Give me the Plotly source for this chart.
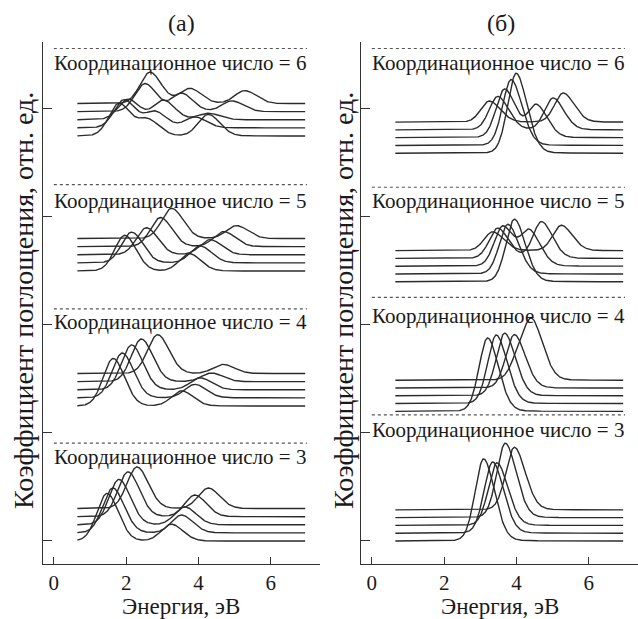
import numpy as np
import plotly.graph_objects as go

# Energy grid (eV) on which every spectrum is evaluated
E_MIN, E_MAX = 0.65, 6.95
energy = np.linspace(E_MIN, E_MAX, 600)

coord_numbers = [3, 4, 5, 6]
x_ticks = [0, 2, 4, 6]

# Absorption bands of every curve: (band energy, eV; band intensity, arb. units).
# One list per curve, bottom curve of a group first.
bands_a = {
    3: [[(1.47, 4.40), (3.25, 1.55)],
        [(1.63, 4.15), (3.53, 1.65)],
        [(1.80, 4.20), (3.62, 1.65)],
        [(2.05, 4.15), (3.90, 2.00)],
        [(2.30, 3.85), (4.27, 1.90)]],
    4: [[(1.64, 4.40), (3.53, 1.40)],
        [(1.89, 4.15), (3.90, 1.25)],
        [(2.15, 4.15), (4.05, 1.10)],
        [(2.42, 3.95), (4.36, 0.80)],
        [(2.87, 3.60), (4.68, 0.85)]],
    5: [[(1.96, 3.30), (3.75, 1.60)],
        [(2.15, 2.85), (4.05, 1.55)],
        [(2.56, 2.50), (4.32, 1.40)],
        [(2.95, 2.70), (4.70, 1.40)],
        [(3.26, 2.80), (5.05, 1.20)]],
    6: [[(1.80, 3.00), (2.60, 1.50), (4.27, 2.00)],
        [(1.94, 2.60), (2.80, 1.50), (3.90, 1.00)],
        [(2.05, 1.90), (3.03, 1.80), (4.27, 0.60)],
        [(2.52, 2.60), (3.53, 1.70), (4.92, 1.00)],
        [(2.66, 2.90), (3.76, 1.40), (5.28, 1.20)]],
}

bands_b = {
    3: [[(3.09, 7.60)],
        [(3.34, 6.60)],
        [(3.46, 5.80)],
        [(3.69, 6.90)],
        [(3.94, 5.80)]],
    4: [[(3.20, 6.80)],
        [(3.44, 6.35)],
        [(3.67, 5.80)],
        [(3.94, 4.95)],
        [(4.12, 2.60), (4.47, 4.30)]],
    5: [[(3.94, 5.80)],
        [(3.76, 4.60)],
        [(3.62, 3.70), (4.36, 3.20)],
        [(3.48, 2.80), (4.69, 3.40)],
        [(3.34, 1.75), (5.24, 2.35)]],
    6: [[(3.99, 7.40)],
        [(3.85, 6.10)],
        [(3.67, 4.50), (4.55, 3.00)],
        [(3.48, 3.10), (5.01, 2.95)],
        [(3.25, 1.95), (5.29, 2.70)]],
}

# Vertical stacking of the spectra
group_base_a = [0.0, 12.5, 25.0, 37.5]
group_base_b = [0.0, 12.0, 24.0, 35.9]
curve_step_a = 0.75
curve_step_b = 0.72

# Band shape: gaussian half-widths below/above the centre and lorentzian share
shape_a = dict(sig_lo=0.28, sig_hi=0.32, eta=0.05)
shape_b = dict(sig_lo=0.24, sig_hi=0.31, eta=0.10)

# Separator lines and group captions (y, data units)
sep_y_a = [9.07, 21.5, 33.0, 45.6]
sep_y_b = [11.67, 22.56, 32.75, 45.6]
cap_y_a = [7.78, 20.28, 31.5, 44.26]
cap_y_b = [10.28, 20.86, 31.5, 44.26]
SEP_X = [0.0, 7.0]

X_RANGE = [-0.3, 7.36]
Y_RANGE = [-2.13, 46.2]
Y_TICKS = [0, 10, 20, 30, 40]

FONT = "Liberation Serif, Times New Roman, serif"
INK = "#2b2b2b"


def spectrum(bands, sig_lo, sig_hi, eta):
    y = np.zeros_like(energy)
    for centre, height in bands:
        sig = np.where(energy < centre, sig_lo, sig_hi)
        u = (energy - centre) / sig
        gauss = np.exp(-0.5 * u ** 2)
        lorentz = 1.0 / (1.0 + (u * 1.1774) ** 2)
        y += height * ((1 - eta) * gauss + eta * lorentz)
    return y


fig = go.Figure()

panels = [
    ("x", "y", bands_a, group_base_a, curve_step_a, shape_a, sep_y_a, cap_y_a),
    ("x2", "y2", bands_b, group_base_b, curve_step_b, shape_b, sep_y_b, cap_y_b),
]

for xa, ya, bands, bases, step, shape, sep_y, cap_y in panels:
    for g, cn in enumerate(coord_numbers):
        for i, curve in enumerate(bands[cn]):
            base = bases[g] + i * step
            fig.add_trace(go.Scatter(
                x=energy, y=base + spectrum(curve, **shape),
                mode="lines", line=dict(color=INK, width=1.4),
                xaxis=xa, yaxis=ya, showlegend=False, hoverinfo="skip"))
        fig.add_trace(go.Scatter(
            x=SEP_X, y=[sep_y[g], sep_y[g]], mode="lines",
            line=dict(color="#555555", width=1.2, dash="dot"),
            xaxis=xa, yaxis=ya, showlegend=False, hoverinfo="skip"))
        fig.add_annotation(
            x=-0.04, y=cap_y[g], xref=xa, yref=ya,
            text=f"Координационное число = {cn}",
            showarrow=False, xanchor="left", yanchor="middle",
            font=dict(family=FONT, size=21, color="#1a1a1a"))

axis_common = dict(
    showline=True, linecolor="#333333", linewidth=1.3,
    ticks="inside", tickcolor="#333333", tickwidth=1.3,
    showgrid=False, zeroline=False, mirror=False)

X_DOM_A = [43 / 638, 320 / 638]
X_DOM_B = [361 / 638, 1.0]
Y_DOM = [(619 - 564) / 619, (619 - 42) / 619]

fig.update_layout(
    width=638, height=619,
    margin=dict(l=0, r=0, t=0, b=0),
    paper_bgcolor="white", plot_bgcolor="white",
    font=dict(family=FONT, color="#1a1a1a"),
    xaxis=dict(domain=X_DOM_A, range=X_RANGE, tickvals=x_ticks, ticklen=7,
               tickfont=dict(family=FONT, size=21), anchor="y", **axis_common),
    yaxis=dict(domain=Y_DOM, range=Y_RANGE, tickvals=Y_TICKS, ticklen=9,
               showticklabels=False, anchor="x", **axis_common),
    xaxis2=dict(domain=X_DOM_B, range=X_RANGE, tickvals=x_ticks, ticklen=7,
                tickfont=dict(family=FONT, size=21), anchor="y2", **axis_common),
    yaxis2=dict(domain=Y_DOM, range=Y_RANGE, tickvals=Y_TICKS, ticklen=9,
                showticklabels=False, anchor="x2", **axis_common),
)

# Panel letters, axis titles
for xc, letter in [(181, "(а)"), (501, "(б)")]:
    fig.add_annotation(x=xc / 638, y=1 - 23 / 619, xref="paper", yref="paper",
                       text=letter, showarrow=False, xanchor="center", yanchor="middle",
                       font=dict(family=FONT, size=24))
for xc in [181, 500]:
    fig.add_annotation(x=xc / 638, y=0.0, xref="paper", yref="paper",
                       text="Энергия, эВ", showarrow=False, xanchor="center", yanchor="bottom",
                       yshift=-2, font=dict(family=FONT, size=23))
for xc in [23, 343]:
    fig.add_annotation(x=xc / 638, y=1 - 301 / 619, xref="paper", yref="paper",
                       text="Коэффициент поглощения, отн. ед.", textangle=-90,
                       showarrow=False, xanchor="center", yanchor="middle",
                       font=dict(family=FONT, size=28))

fig.write_html("out.html")
